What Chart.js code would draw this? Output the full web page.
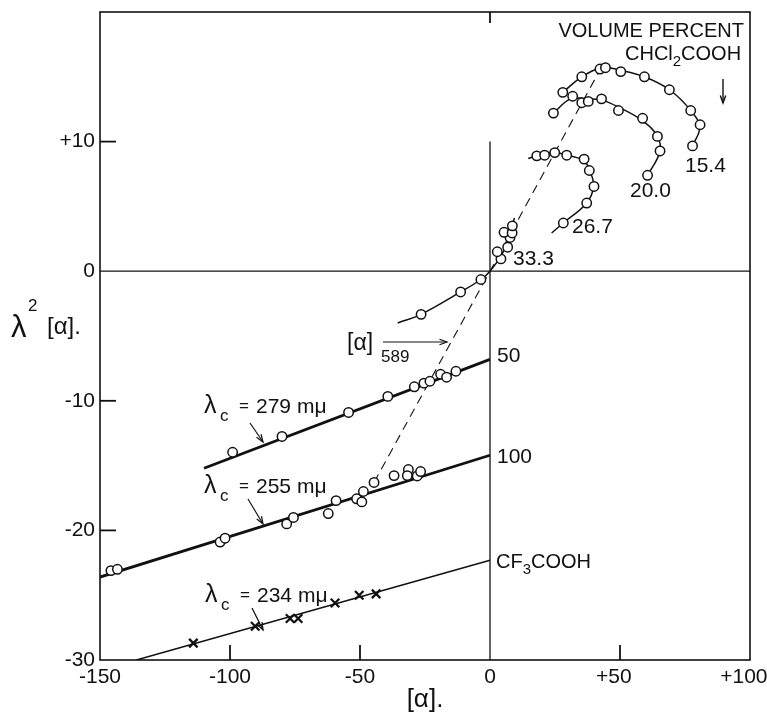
<!DOCTYPE html>
<html><head><meta charset="utf-8">
<script src="https://cdn.jsdelivr.net/npm/chart.js@4/dist/chart.umd.min.js"></script>
<style>html,body{margin:0;padding:0;background:#fff;}</style>
</head><body>
<canvas id="c" width="767" height="715"></canvas>
<script>
// ---- tick values ----
const xTickVals = [-150, -100, -50, 0, 50, 100];
const yTickVals = [-30, -20, -10, 0, 10];
const xInnerTicks = [-100, -50, 50];
const yInnerTicks = [10, -10, -20];
const xTopTicks = [0];

// ---- reference lines ----
const zeroH = [[-150, 0], [100, 0]];
const zeroV = [[0, 10], [0, -30]];

// ---- straight fitted lines ----
const line50 = [[-110, -15.2], [0, -6.8]];
const line100 = [[-150, -23.6], [0, -14.2]];
const lineCF3 = [[-136, -30], [0, -22.3]];

// ---- measured points ----
const pts50 = [[-99, -13.97], [-80, -12.75], [-54.4, -10.9], [-39.3, -9.66], [-29.1, -8.92], [-25.4, -8.64], [-23.1, -8.49], [-19.0, -7.95], [-16.7, -8.18], [-13.1, -7.72]];
const pts100 = [[-145.8, -23.1], [-143.3, -23.0], [-103.8, -20.9], [-101.9, -20.6], [-78.2, -19.5], [-75.6, -19.0], [-62.2, -18.7], [-59.2, -17.7], [-51.3, -17.56], [-49.3, -17.8], [-48.7, -17.0], [-44.6, -16.3], [-36.9, -15.77], [-31.4, -15.3], [-31.8, -15.77], [-28.0, -15.8], [-26.7, -15.46]];
const ptsCF3 = [[-114.1, -28.7], [-90.3, -27.4], [-76.9, -26.8], [-73.8, -26.8], [-59.6, -25.6], [-50.3, -25.0], [-43.8, -24.9]];

const pts33_3 = [[-26.5, -3.33], [-11.3, -1.6], [-3.5, -0.64], [4.2, 0.95], [2.8, 1.5], [6.8, 1.85], [7.7, 2.6], [5.4, 3.0], [8.5, 2.95], [8.6, 3.5]];
const curve33_3 = [[-35.5, -4.0], [-26.5, -3.33], [-11.3, -1.6], [-3.5, -0.64], [0, 0], [4.3, 1.2], [7.3, 2.4], [8.6, 3.5], [9.4, 4.1]];

const pts26_7 = [[18.0, 8.9], [21.0, 8.95], [24.9, 9.15], [29.5, 8.95], [36.2, 8.65], [38.2, 7.77], [40.0, 6.54], [37.2, 5.26], [28.2, 3.72]];
const curve26_7 = [[14.7, 8.7], [18.0, 8.9], [24.9, 9.15], [29.5, 8.95], [36.2, 8.5], [38.7, 7.6], [39.8, 6.5], [37.2, 5.26], [28.2, 3.72], [23.7, 2.95]];

const pts20_0 = [[24.4, 12.2], [31.8, 13.5], [35.3, 13.0], [37.8, 13.1], [42.9, 13.3], [49.4, 12.4], [58.7, 11.8], [64.4, 10.4], [65.4, 9.28], [60.6, 7.4]];
const curve20_0 = [[24.4, 12.2], [31.0, 13.3], [37.5, 13.3], [43.0, 13.2], [50.0, 12.6], [58.7, 11.6], [64.4, 10.4], [65.3, 9.2], [60.6, 7.4]];

const pts15_4 = [[28.0, 13.8], [35.3, 15.0], [42.3, 15.6], [44.4, 15.7], [50.3, 15.4], [59.4, 15.0], [69.0, 14.0], [77.2, 12.4], [80.8, 11.3], [77.9, 9.67]];
const curve15_4 = [[28.0, 13.8], [35.3, 15.0], [43.4, 15.7], [50.3, 15.5], [59.4, 15.0], [69.0, 14.0], [77.2, 12.4], [80.6, 11.1], [77.9, 9.67]];

const dash589 = [[-44.6, -16.3], [0, 0], [43.3, 15.9]];

// ---- helpers ----
const FONT = "'Liberation Sans', Arial, sans-serif";
const xy = a => a.map(p => ({x: p[0], y: p[1]}));
const fmt = v => v > 0 ? '+' + v : String(v);

function lineDS(data, width, extra) {
  return Object.assign({type: 'line', data: xy(data), borderColor: '#111', borderWidth: width,
    pointRadius: 0, fill: false, tension: 0, order: 5}, extra || {});
}
function circleDS(data) {
  return {type: 'scatter', data: xy(data), pointStyle: 'circle', pointRadius: 4.7,
    pointBorderWidth: 1.5, pointBorderColor: '#111', pointBackgroundColor: '#fff', showLine: false, order: 0};
}

function drawArrow(ctx, x1, y1, x2, y2) {
  ctx.beginPath(); ctx.moveTo(x1, y1); ctx.lineTo(x2, y2); ctx.stroke();
  const a = Math.atan2(y2 - y1, x2 - x1), h = 8, w = 0.35;
  ctx.beginPath();
  ctx.moveTo(x2 - h * Math.cos(a - w), y2 - h * Math.sin(a - w));
  ctx.lineTo(x2, y2);
  ctx.lineTo(x2 - h * Math.cos(a + w), y2 - h * Math.sin(a + w));
  ctx.stroke();
}
function seq(ctx, x, y, parts) {
  let cx = x;
  parts.forEach(p => {
    ctx.font = p[1] + 'px ' + FONT;
    ctx.fillText(p[0], cx, y + (p[2] || 0));
    cx += ctx.measureText(p[0]).width;
  });
}
function lamLabel(ctx, x, y, num) {
  ctx.font = '25px ' + FONT; ctx.fillText('λ', x, y);
  ctx.font = '17px ' + FONT; ctx.fillText('c', x + 16, y + 8);
  ctx.font = '17px ' + FONT; ctx.fillText('=', x + 35, y - 2);
  ctx.font = '21px ' + FONT; ctx.fillText(num, x + 52, y);
  ctx.fillText('mμ', x + 93, y);
}

const decor = {
  id: 'decor',
  afterDraw(chart) {
    const ctx = chart.ctx, a = chart.chartArea;
    const sx = chart.scales.x, sy = chart.scales.y;
    ctx.save();
    ctx.strokeStyle = '#111'; ctx.fillStyle = '#111'; ctx.lineCap = 'butt';
    // frame
    ctx.lineWidth = 1.6;
    ctx.strokeRect(a.left, a.top, a.right - a.left, a.bottom - a.top);
    // inward ticks
    ctx.lineWidth = 1.8;
    yInnerTicks.forEach(v => { const p = sy.getPixelForValue(v);
      ctx.beginPath(); ctx.moveTo(a.left, p); ctx.lineTo(a.left + 16, p); ctx.stroke(); });
    xInnerTicks.forEach(v => { const p = sx.getPixelForValue(v);
      ctx.beginPath(); ctx.moveTo(p, a.bottom); ctx.lineTo(p, a.bottom - 15); ctx.stroke(); });
    xTopTicks.forEach(v => { const p = sx.getPixelForValue(v);
      ctx.beginPath(); ctx.moveTo(p, a.top); ctx.lineTo(p, a.top + 11); ctx.stroke(); });

    // x tick labels: number centred on the tick, "+" sign hanging to the left
    ctx.font = '21px ' + FONT; ctx.textAlign = 'center'; ctx.textBaseline = 'alphabetic';
    sx.ticks.forEach(t => {
      const lab = fmt(t.value);
      let p = sx.getPixelForValue(t.value);
      if (t.value > 0) p -= ctx.measureText('+').width / 2;
      ctx.fillText(lab, p, 683);
    });

    // text annotations
    ctx.textAlign = 'left';
    ctx.font = '20px ' + FONT;
    ctx.textAlign = 'right'; ctx.fillText('VOLUME PERCENT', 744, 37); ctx.textAlign = 'left';
    seq(ctx, 625, 60, [['CHCl', 20], ['2', 15, 6], ['COOH', 20]]);
    ctx.lineWidth = 1.4;
    drawArrow(ctx, 723, 79, 723, 103);

    ctx.font = '21px ' + FONT;
    ctx.fillText('15.4', 685, 172);
    ctx.fillText('20.0', 630, 197);
    ctx.fillText('26.7', 572, 233);
    ctx.fillText('33.3', 513, 265);
    ctx.fillText('50', 497, 362);
    ctx.fillText('100', 497, 463);
    seq(ctx, 496, 568, [['CF', 20], ['3', 15, 6], ['COOH', 20]]);

    lamLabel(ctx, 204, 413, '279');
    lamLabel(ctx, 204, 493, '255');
    lamLabel(ctx, 205, 602, '234');
    ctx.lineWidth = 1.2;
    drawArrow(ctx, 250, 423, 263, 442);
    drawArrow(ctx, 248, 499, 263, 524);
    drawArrow(ctx, 252, 608, 263, 630);

    // [α]589
    ctx.font = '23px ' + FONT; ctx.fillText('[α]', 347, 350);
    ctx.font = '17px ' + FONT; ctx.fillText('589', 381, 362);
    drawArrow(ctx, 383, 342, 447, 342);

    // y axis title
    ctx.font = '31px ' + FONT; ctx.fillText('λ', 11, 337);
    ctx.font = '17px ' + FONT; ctx.fillText('2', 28, 311);
    ctx.font = '24px ' + FONT; ctx.fillText('[α].', 47, 334);
    ctx.restore();
  }
};

new Chart(document.getElementById('c'), {
  type: 'scatter',
  data: {datasets: [
    lineDS(zeroH, 1.3),
    lineDS(zeroV, 1.3),
    lineDS(dash589, 1.1, {borderDash: [9, 6]}),
    lineDS(line50, 2.8),
    lineDS(line100, 2.8),
    lineDS(lineCF3, 1.5),
    lineDS(curve33_3, 1.5, {tension: 0.4}),
    lineDS(curve26_7, 1.5, {tension: 0.4}),
    lineDS(curve20_0, 1.5, {tension: 0.4}),
    lineDS(curve15_4, 1.5, {tension: 0.4}),
    circleDS(pts50),
    circleDS(pts100),
    circleDS(pts33_3),
    circleDS(pts26_7),
    circleDS(pts20_0),
    circleDS(pts15_4),
    {type: 'scatter', data: xy(ptsCF3), pointStyle: 'crossRot', pointRadius: 6,
      pointBorderWidth: 2.3, pointBorderColor: '#111', showLine: false, order: 0}
  ]},
  options: {
    responsive: false, animation: false, devicePixelRatio: 1,
    layout: {padding: {top: 12, right: 17, left: 0, bottom: 0}},
    plugins: {legend: {display: false}, tooltip: {enabled: false}},
    scales: {
      x: {type: 'linear', min: -150, max: 100, position: 'bottom',
        afterBuildTicks: s => { s.ticks = xTickVals.map(v => ({value: v})); },
        afterFit: s => { s.height = 55; s.paddingLeft = 0; s.paddingRight = 0; },
        grid: {display: false, drawTicks: false}, border: {display: false},
        ticks: {display: false, callback: fmt},
        title: {display: true, text: '[α].', color: '#111', font: {family: FONT, size: 26}, padding: {top: 0, bottom: 0}}
      },
      y: {type: 'linear', min: -30, max: 20, position: 'left',
        afterBuildTicks: s => { s.ticks = yTickVals.map(v => ({value: v})); },
        afterFit: s => { s.width = 100; s.paddingTop = 0; s.paddingBottom = 0; },
        grid: {display: false, drawTicks: false}, border: {display: false},
        ticks: {font: {family: FONT, size: 21}, color: '#111', padding: 5, autoSkip: false, callback: fmt}
      }
    }
  },
  plugins: [decor]
});
</script>
</body></html>
